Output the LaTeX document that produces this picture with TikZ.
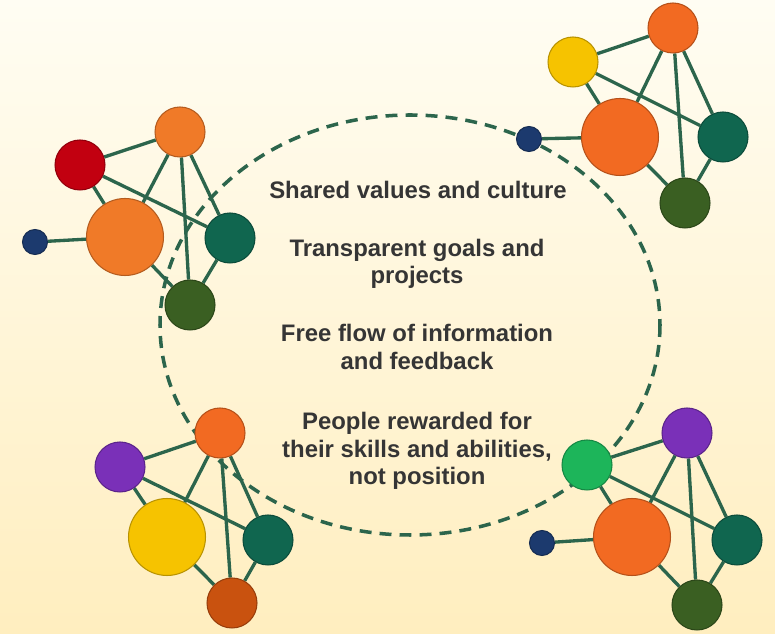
\documentclass[tikz,border=0pt]{standalone}
\usepackage{fontspec}
\setsansfont{Liberation Sans}
\usetikzlibrary{backgrounds}

\definecolor{bgtop}{HTML}{FFFDF3}
\definecolor{bgmid}{HTML}{FFF8E2}
\definecolor{bgbot}{HTML}{FFEEBF}
\definecolor{linkgreen}{HTML}{2C654C}
\definecolor{notegray}{HTML}{353535}
\definecolor{cred}{HTML}{C20010}
\definecolor{corange}{HTML}{F07A28}
\definecolor{credorange}{HTML}{F26A22}
\definecolor{cteal}{HTML}{10664F}
\definecolor{cforest}{HTML}{3A5F22}
\definecolor{cnavy}{HTML}{1C3A6E}
\definecolor{cyellow}{HTML}{F6C300}
\definecolor{cpurple}{HTML}{7A30B8}
\definecolor{cgreen}{HTML}{1DB55A}
\definecolor{cburnt}{HTML}{C9520F}

\begin{document}
\begin{tikzpicture}[x=0.02cm, y=-0.02cm,
    main/.style={circle, inner sep=0pt, minimum size=1cm, line width=0.6pt},
    hub/.style={main, minimum size=1.54cm},
    dot/.style={main, minimum size=0.5cm},
    paint/.style={fill=#1, draw=#1!75!black},
    link/.style={draw=linkgreen, line width=1.9pt},
    ring/.style={draw=linkgreen, line width=2pt, dash pattern=on 6.8pt off 4.6pt},
    note/.style={align=center, text=notegray, font=\sffamily\bfseries\fontsize{13.6}{15.5}\selectfont}]

    \useasboundingbox (0,0) rectangle (775,634);

    % top left group
    \node[main, paint=cred] (tlB) at (80,165) {};
    \node[main, paint=corange] (tlA) at (180,132) {};
    \node[hub, paint=corange] (tlC) at (125,237) {};
    \node[main, paint=cteal] (tlD) at (230,238) {};
    \node[main, paint=cforest] (tlE) at (190,305) {};
    \node[dot, paint=cnavy] (tlF) at (35,242) {};

    % top right group
    \node[main, paint=cyellow] (trB) at (573,62) {};
    \node[main, paint=credorange] (trA) at (673,28) {};
    \node[hub, paint=credorange] (trC) at (620,137) {};
    \node[main, paint=cteal] (trD) at (723,137) {};
    \node[main, paint=cforest] (trE) at (685,203) {};
    \node[dot, paint=cnavy] (trF) at (529,139) {};

    % bottom left group
    \node[main, paint=cpurple] (blB) at (120,467) {};
    \node[main, paint=credorange] (blA) at (220,433) {};
    \node[hub, paint=cyellow] (blC) at (167,537) {};
    \node[main, paint=cteal] (blD) at (268,540) {};
    \node[main, paint=cburnt] (blE) at (232,603) {};

    % bottom right group
    \node[main, paint=cgreen] (brB) at (587,465) {};
    \node[main, paint=cpurple] (brA) at (687,433) {};
    \node[hub, paint=credorange] (brC) at (632,537) {};
    \node[main, paint=cteal] (brD) at (737,540) {};
    \node[main, paint=cforest] (brE) at (697,605) {};
    \node[dot, paint=cnavy] (brF) at (542,543) {};

    % texts
    \node[note] (n1) at (418,190) {Shared values and culture};
    \node[note] (n2) at (417,264) {Transparent goals and\\projects};
    \node[note] (n3) at (417,347) {Free flow of information\\and feedback};
    \node[note] (n4) at (417,451) {People rewarded for\\their skills and abilities,\\not position};

    \begin{scope}[on background layer]
        \shade[top color=bgtop, middle color=bgmid, bottom color=bgbot] (0,0) rectangle (775,634);
        \draw[ring] (410,325) ellipse [x radius=250, y radius=210];
        \foreach \g in {tl,tr,bl,br}
            \path[link]
                (\g B) edge (\g A)
                (\g B) edge (\g C)
                (\g B) edge (\g D)
                (\g A) edge (\g C)
                (\g A) edge (\g E)
                (\g A) edge (\g D)
                (\g C) edge (\g E)
                (\g D) edge (\g E)
                ;
        \path[link]
            (tlF) edge (tlC)
            (trF) edge (trC)
            (brF) edge (brC)
            ;
    \end{scope}
\end{tikzpicture}
\end{document}
